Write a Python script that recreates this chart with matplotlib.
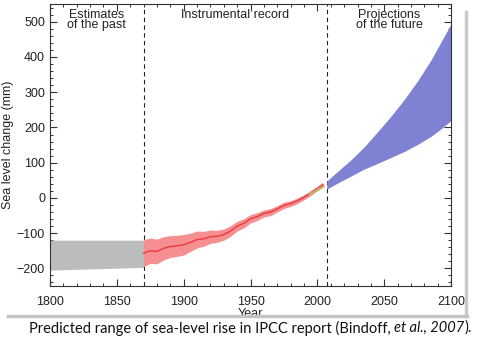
import matplotlib
matplotlib.use("Agg")
import matplotlib.pyplot as plt
from matplotlib.ticker import MultipleLocator
from matplotlib.lines import Line2D

# Reconstructed (pre-1870) sea level range
past_years = [1800, 1835, 1870]
past_upper = [-120, -120, -120]
past_lower = [-205, -201, -197]

# Tide-gauge record (central estimate and half-width of uncertainty)
obs_years = [1870, 1875, 1880, 1885, 1890, 1895, 1900, 1905, 1910, 1915,
             1920, 1925, 1930, 1935, 1940, 1945, 1950, 1955, 1960, 1965,
             1970, 1975, 1980, 1985, 1990, 1995, 2000, 2004]
obs_center = [-157, -150, -152, -143, -138, -136, -133, -126, -118, -116,
              -110, -109, -104, -94, -80, -72, -59, -53, -44, -40,
              -31, -21, -16, -8, 2, 14, 27, 38]
obs_halfwidth = [38, 36, 35, 33, 31, 30, 29, 26, 24, 21,
                 19, 17, 16, 15, 14, 13, 12, 11, 10, 10,
                 9, 9, 8, 8, 7, 7, 6, 6]

# Satellite altimetry segment
sat_years = [1993, 1997, 2001, 2005]
sat_center = [11, 18, 27, 36]

# Projected range to 2100
proj_years = [2007, 2015, 2025, 2035, 2045, 2055, 2065, 2075, 2085, 2092, 2100]
proj_upper = [48, 75, 108, 145, 188, 232, 280, 333, 392, 440, 495]
proj_lower = [25, 42, 62, 82, 98, 115, 132, 152, 175, 195, 220]

# Period boundaries and labels
boundaries = [1870, 2007]
period_labels = ["Estimates\nof the past", "Instrumental record", "Projections\nof the future"]
period_x = [1835, 1938.5, 2053.5]

caption_plain = "Predicted range of sea-level rise in IPCC report (Bindoff, "
caption_italic = "et al., 2007"
caption_end = ")."

plt.rcParams['font.family'] = ['Liberation Sans', 'DejaVu Sans']

fig = plt.figure(figsize=(4.8, 3.45), dpi=100)
ax = fig.add_axes([0.104, 0.171, 0.836, 0.817])

ax.fill_between(past_years, past_lower, past_upper, color='#babcbe', lw=0, zorder=2)

lo = [c - h for c, h in zip(obs_center, obs_halfwidth)]
hi = [c + h for c, h in zip(obs_center, obs_halfwidth)]
ax.fill_between(obs_years, lo, hi, color='#f58f92', lw=0, zorder=3)
ax.plot(obs_years, obs_center, color='#ea3f42', lw=1.1, zorder=4)

sat_lo = [v - 4 for v in sat_center]
sat_hi = [v + 4 for v in sat_center]
ax.fill_between(sat_years, sat_lo, sat_hi, color='#c8ad6a', lw=0, zorder=5)

ax.fill_between(proj_years, proj_lower, proj_upper, color='#7f82d3', lw=0, zorder=2)

for b in boundaries:
    ax.axvline(b, color='#222222', lw=0.8, ls=(0, (4, 3)), zorder=1)

for x, t in zip(period_x, period_labels):
    ax.text(x, 537, t, ha='center', va='top', fontsize=9, color='#222222',
            linespacing=0.85)

ax.set_xlim(1800, 2100)
ax.set_ylim(-250, 550)
ax.xaxis.set_major_locator(MultipleLocator(50))
ax.xaxis.set_minor_locator(MultipleLocator(10))
ax.yaxis.set_major_locator(MultipleLocator(100))
ax.yaxis.set_minor_locator(MultipleLocator(20))
ax.tick_params(which='both', direction='in', top=True, right=True,
               colors='#333333', labelcolor='#222222', labelsize=9)
ax.tick_params(which='major', length=5, width=0.8)
ax.tick_params(which='minor', length=2.5, width=0.7)
ax.tick_params(axis='x', pad=7)
for s in ax.spines.values():
    s.set_linewidth(0.8)
    s.set_color('#333333')

ax.set_xlabel("Year", fontsize=9, color='#222222', labelpad=0)
ax.set_ylabel("Sea level change (mm)", fontsize=9, color='#222222', labelpad=2)

# Drop shadow around the chart panel
fig.add_artist(Line2D([466 / 480, 466 / 480], [1 - 12 / 345, 1 - 316 / 345],
                      transform=fig.transFigure, color='#c9c9c9', lw=2.5))
fig.add_artist(Line2D([8 / 480, 467 / 480], [1 - 316 / 345, 1 - 316 / 345],
                      transform=fig.transFigure, color='#c4c4c4', lw=2.5))

# Caption with italic reference
cap_y = 1 - 328 / 345
cap_kw = dict(fontsize=10.5, family=['Lato', 'DejaVu Sans'], va='center', ha='left',
              color='#111111')
t1 = fig.text(29 / 480, cap_y, caption_plain, **cap_kw)
fig.canvas.draw()
r = fig.canvas.get_renderer()
bb = t1.get_window_extent(r)
t2 = fig.text(bb.x1 / fig.bbox.width, cap_y, caption_italic, style='italic', **cap_kw)
bb2 = t2.get_window_extent(r)
fig.text(bb2.x1 / fig.bbox.width, cap_y, caption_end, **cap_kw)

fig.savefig("out.png", dpi=100)
